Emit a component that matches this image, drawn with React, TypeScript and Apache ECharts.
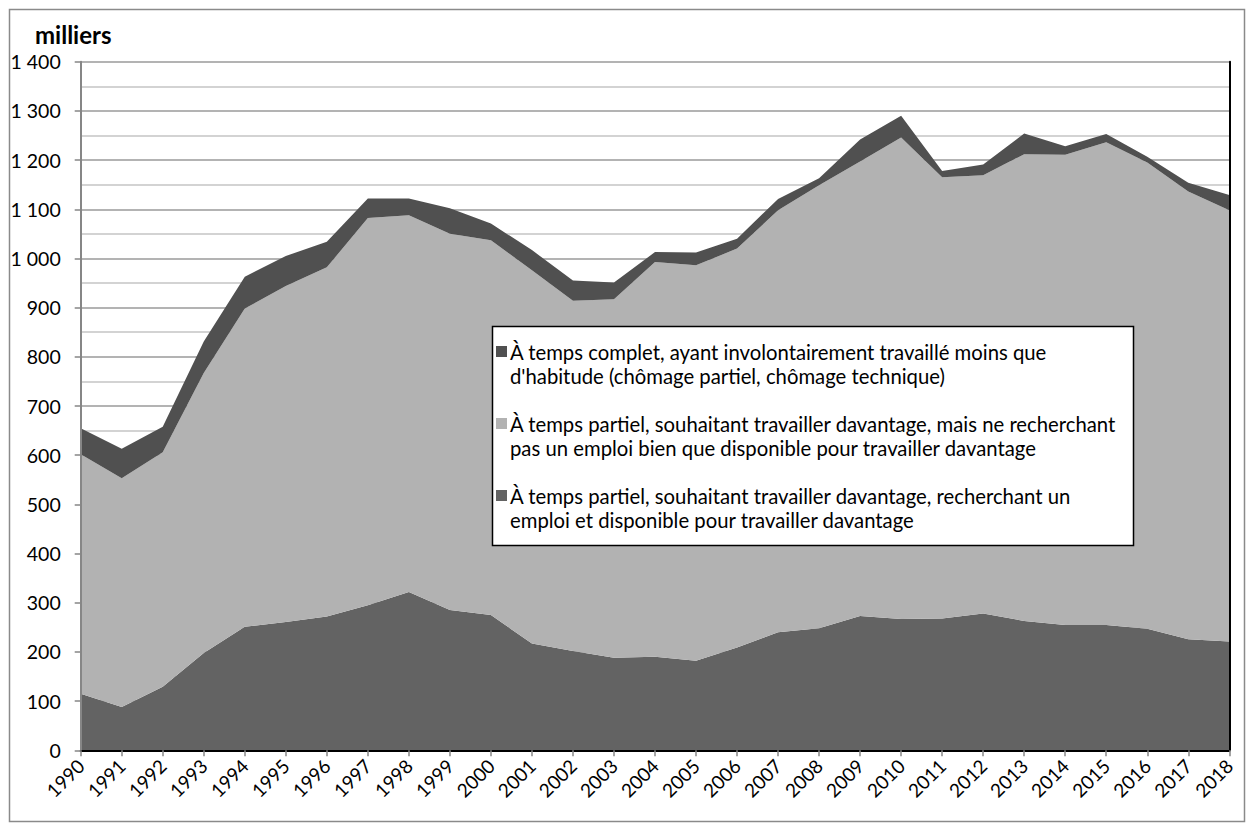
import React, { useEffect, useRef } from "react";
import * as echarts from "echarts";

const years = ["1990","1991","1992","1993","1994","1995","1996","1997","1998","1999","2000","2001","2002","2003","2004","2005","2006","2007","2008","2009","2010","2011","2012","2013","2014","2015","2016","2017","2018"];

// À temps partiel, recherchant un emploi et disponible
const partielRecherchant = [115, 88, 129, 198, 251, 261, 272, 295, 322, 285, 275, 217, 202, 188, 190, 182, 209, 240, 248, 273, 267, 268, 278, 263, 255, 255, 247, 226, 221];
// À temps partiel, ne recherchant pas un emploi
const partielNonRecherchant = [487, 465, 477, 569, 647, 683, 710, 787, 766, 765, 762, 759, 712, 729, 803, 804, 811, 858, 901, 924, 979, 897, 891, 949, 956, 981, 948, 910, 877];
// À temps complet, chômage partiel / technique
const tempsComplet = [53, 60, 52, 64, 65, 61, 52, 40, 34, 52, 34, 41, 41, 34, 20, 26, 20, 23, 14, 45, 44, 13, 22, 42, 17, 17, 12, 18, 31];

const seriesNames = [
  "À temps partiel, souhaitant travailler davantage, recherchant un emploi et disponible pour travailler davantage",
  "À temps partiel, souhaitant travailler davantage, mais ne recherchant pas un emploi bien que disponible pour travailler davantage",
  "À temps complet, ayant involontairement travaillé moins que d'habitude (chômage partiel, chômage technique)",
];
// legend (top series first), with line breaks as in the reference
const legendLines = [
  ["À temps complet, ayant involontairement travaillé moins que", "d'habitude (chômage partiel, chômage technique)"],
  ["À temps partiel, souhaitant travailler davantage, mais ne recherchant", "pas un emploi bien que disponible pour travailler davantage"],
  ["À temps partiel, souhaitant travailler davantage, recherchant un", "emploi et disponible pour travailler davantage"],
];
const colors = ["#636363", "#b2b2b2", "#505050"];
const legendColors = [colors[2], colors[1], colors[0]];

const FONT = "Lato, 'Noto Sans', sans-serif";

function fmt(v: number) {
  const s = String(v);
  return s.length > 3 ? s.slice(0, s.length - 3) + " " + s.slice(-3) : s;
}

export default function App() {
  const ref = useRef<HTMLDivElement>(null);
  useEffect(() => {
    if (!ref.current) return;
    const chart = echarts.init(ref.current, null, { renderer: "svg" });
    const data = [partielRecherchant, partielNonRecherchant, tempsComplet];

    const legendGraphics: any[] = [
      {
        type: "rect",
        shape: { x: 492.5, y: 326.5, width: 641, height: 219 },
        style: { fill: "#fff", stroke: "#000", lineWidth: 1.5 },
        z: 100,
      },
    ];
    legendLines.forEach((lines, i) => {
      const y0 = 352 + i * 72;
      legendGraphics.push({
        type: "rect",
        shape: { x: 496, y: y0 - 6, width: 11, height: 11 },
        style: { fill: legendColors[i] },
        z: 101,
      });
      lines.forEach((t, j) => {
        legendGraphics.push({
          type: "text",
          x: 510,
          y: y0 + j * 24,
          style: { text: t, fill: "#000", font: `20.3px ${FONT}`, textVerticalAlign: "middle", textAlign: "left" },
          z: 101,
        });
      });
    });

    chart.setOption({
      animation: false,
      backgroundColor: "#fff",
      grid: { left: 80.7, right: 20.7, top: 61.7, bottom: 74.7, containLabel: false },
      xAxis: [
        {
          type: "category",
          data: years,
          boundaryGap: false,
          axisLine: { show: true, lineStyle: { color: "#868686", width: 2 } },
          axisTick: { show: true, alignWithLabel: true, length: 6, lineStyle: { color: "#868686", width: 1.5 } },
          axisLabel: { rotate: 45, fontSize: 19, color: "#000", fontFamily: FONT, margin: 12, interval: 0 },
          splitLine: { show: false },
          z: 10,
        },
        {
          type: "category",
          data: years,
          position: "top",
          boundaryGap: false,
          axisLine: { show: true, lineStyle: { color: "#000", width: 2 } },
          axisTick: { show: false },
          axisLabel: { show: false },
          splitLine: { show: false },
          z: 10,
        },
      ],
      yAxis: [
        {
          type: "value",
          min: 0,
          max: 1400,
          interval: 100,
          axisLine: { show: true, lineStyle: { color: "#868686", width: 2 } },
          axisTick: { show: true, length: 6, lineStyle: { color: "#868686", width: 1.5 } },
          axisLabel: { fontSize: 19.5, color: "#000", fontFamily: FONT, margin: 20, formatter: (v: number) => fmt(v) },
          splitLine: { show: false },
          z: 10,
        },
        {
          type: "value",
          min: 0,
          max: 1400,
          interval: 100,
          position: "right",
          axisLine: { show: true, lineStyle: { color: "#000", width: 2 } },
          axisTick: { show: false },
          axisLabel: { show: false },
          splitLine: { show: false },
          z: 10,
        },
        {
          type: "value",
          min: 0,
          max: 1400,
          interval: 100,
          position: "right",
          axisLine: { show: false },
          axisTick: { show: false },
          axisLabel: { show: false },
          splitLine: { show: true, lineStyle: { color: "#9a9a9a", width: 1.5 } },
          minorTick: { show: false, splitNumber: 2 },
          minorSplitLine: { show: true, lineStyle: { color: "#c4c4c4", width: 1.5 } },
          z: 0,
        },
      ],
      series: data.map((d, i) => ({
        name: seriesNames[i],
        type: "line",
        stack: "total",
        data: d,
        symbol: "none",
        lineStyle: { width: 0 },
        areaStyle: { color: colors[i], opacity: 1 },
        itemStyle: { color: colors[i] },
        z: 2,
      })),
      graphic: [
        {
          type: "rect",
          shape: { x: 9.5, y: 9.5, width: 1235, height: 812 },
          style: { fill: "none", stroke: "#8a8a8a", lineWidth: 1.5 },
          z: 0,
          silent: true,
        },
        {
          type: "text",
          x: 35,
          y: 34,
          style: { text: "milliers", fill: "#000", font: `bold 24px ${FONT}`, textVerticalAlign: "middle" },
        },
        ...legendGraphics,
      ],
    });
    return () => chart.dispose();
  }, []);
  return <div ref={ref} style={{ position: "fixed", left: 0, top: 0, width: 1250, height: 825 }} />;
}
